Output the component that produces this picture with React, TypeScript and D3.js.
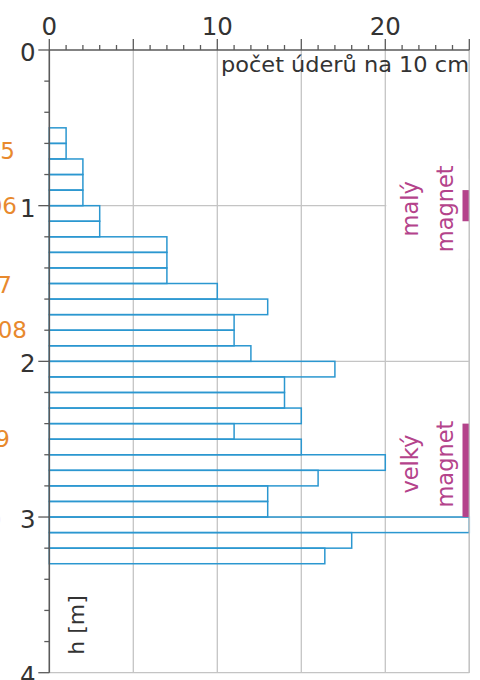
import React from "react";
import * as d3 from "d3";

// Depth (top of each 10 cm interval, in m) and blow counts per 10 cm
const depthTops = [0.5, 0.6, 0.7, 0.8, 0.9, 1.0, 1.1, 1.2, 1.3, 1.4, 1.5, 1.6, 1.7, 1.8, 1.9, 2.0, 2.1, 2.2, 2.3, 2.4, 2.5, 2.6, 2.7, 2.8, 2.9, 3.0, 3.1, 3.2];
const blowCounts = [1, 1, 2, 2, 2, 3, 3, 7, 7, 7, 10, 13, 11, 11, 12, 17, 14, 14, 15, 11, 15, 20, 16, 13, 13, 25, 18, 16.4];
const intervalStep = 0.1;

const countTickLabels = [0, 10, 20];
const depthTickLabels = [0, 1, 2, 3, 4];

// Year markers at the left margin
const yearLabels = ["2005", "2006", "2007", "2008", "2009", "2010"];
const yearDepths = [0.65, 1.0, 1.51, 1.8, 2.5, 3.02];
const yearRightEdges = [15, 17, 12, 27, 10, 1.5];

// Magnet zones
const magnetNames = [["malý", "magnet"], ["velký", "magnet"]];
const magnetFrom = [0.9, 2.4];
const magnetTo = [1.1, 3.0];
const magnetLabelDepth = [1.02, 2.66];

const W = 480;
const H = 680;
const FONT = "DejaVu Sans, Verdana, sans-serif";
const BLUE = "#2b97d0";
const GRID = "#c4c4c4";
const AXIS = "#5a5a5a";
const ORANGE = "#e8892d";
const MAGENTA = "#b4438b";

export default function App() {
  const x = d3.scaleLinear().domain([0, 25]).range([49.3, 469.3]);
  const y = d3.scaleLinear().domain([0, 4]).range([50, 672.7]);

  const minorX = d3.range(0, 26, 1);
  const minorY = d3.range(0, 4.01, 0.2);

  return (
    <svg width={W} height={H} style={{ position: "absolute", left: 0, top: 0, background: "#fff" }} fontFamily={FONT}>
      {/* vertical grid */}
      {[5, 10, 15, 20, 25].map((v) => (
        <line key={"gx" + v} x1={x(v)} x2={x(v)} y1={y(0)} y2={y(4)} stroke={GRID} strokeWidth={1.3} />
      ))}
      {/* horizontal grid */}
      {[1, 2, 3].map((v) => (
        <line key={"gy" + v} x1={x(0)} x2={x(25)} y1={y(v)} y2={y(v)} stroke={GRID} strokeWidth={1.3} />
      ))}
      <line x1={x(0)} x2={x(25)} y1={y(4)} y2={y(4)} stroke={GRID} strokeWidth={1.3} />

      {/* bars */}
      {depthTops.map((d, i) => (
        <rect
          key={"b" + i}
          x={x(0)}
          y={y(d)}
          width={x(blowCounts[i]) - x(0)}
          height={y(d + intervalStep) - y(d)}
          fill="none"
          stroke={BLUE}
          strokeWidth={1.5}
        />
      ))}

      {/* magnet zones */}
      {magnetNames.map((lines, i) => {
        const textY = y(magnetLabelDepth[i]);
        return (
          <g key={"m" + i}>
            {i === 0 && <rect x={x(20) + 1} y={textY - 50} width={x(25) - x(20) - 2} height={100} fill="#fff" />}
            <text transform={`translate(418,${textY}) rotate(-90)`} textAnchor="middle" fontSize={22.5} fill={MAGENTA}>
              {lines[0]}
            </text>
            <text transform={`translate(453,${textY}) rotate(-90)`} textAnchor="middle" fontSize={22.5} fill={MAGENTA}>
              {lines[1]}
            </text>
            <rect x={462.5} y={y(magnetFrom[i])} width={7} height={y(magnetTo[i]) - y(magnetFrom[i])} fill={MAGENTA} />
          </g>
        );
      })}
      <line x1={x(25)} x2={x(25)} y1={y(0)} y2={y(4)} stroke={GRID} strokeWidth={1.3} />

      {/* top axis */}
      <line x1={x(0)} x2={x(25)} y1={y(0)} y2={y(0)} stroke={AXIS} strokeWidth={1.6} />
      {minorX.map((v) => (
        <line key={"tx" + v} x1={x(v)} x2={x(v)} y1={y(0)} y2={v % 5 === 0 ? y(0) - 11 : y(0) - 5} stroke={AXIS} strokeWidth={1.3} />
      ))}
      {countTickLabels.map((v) => (
        <text key={"lx" + v} x={x(v)} y={35} textAnchor="middle" fontSize={24.5} fill="#333">
          {v}
        </text>
      ))}
      <text x={469} y={72} textAnchor="end" fontSize={21} fill="#333" textLength={248} lengthAdjust="spacingAndGlyphs">
        počet úderů na 10 cm
      </text>

      {/* left axis */}
      <line x1={x(0)} x2={x(0)} y1={y(0)} y2={y(4)} stroke={AXIS} strokeWidth={1.6} />
      {minorY.map((v, i) => (
        <line key={"ty" + i} x1={x(0)} x2={i % 5 === 0 ? x(0) - 11 : x(0) - 5} y1={y(v)} y2={y(v)} stroke={AXIS} strokeWidth={1.3} />
      ))}
      {depthTickLabels.map((v) => (
        <text key={"ly" + v} x={35.5} y={y(v) + 11} textAnchor="end" fontSize={24.5} fill="#333">
          {v}
        </text>
      ))}
      <text transform={`translate(84,${625}) rotate(-90)`} textAnchor="middle" fontSize={22} fill="#333">
        h [m]
      </text>

      {/* year markers */}
      {yearLabels.map((t, i) => (
        <text key={"yr" + i} x={yearRightEdges[i]} y={y(yearDepths[i]) + 8} textAnchor="end" fontSize={23} fill={ORANGE}>
          {t}
        </text>
      ))}
    </svg>
  );
}
